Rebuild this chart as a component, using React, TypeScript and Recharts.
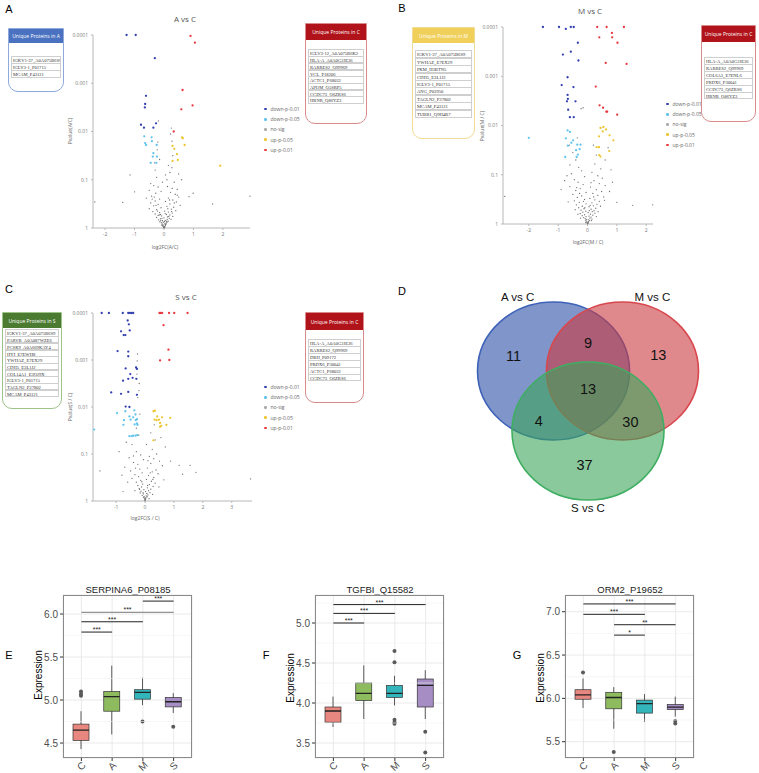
import React from "react";
import {
  ScatterChart,
  Scatter,
  XAxis,
  YAxis,
  ComposedChart,
  Bar,
  CartesianGrid,
  ReferenceLine,
} from "recharts";

const SANS = "'Liberation Sans', Arial, sans-serif";
const LIGHT = "'Open Sans', 'Noto Sans', sans-serif";
const SERIF = "'Liberation Serif', 'DejaVu Serif', serif";

// volcano point colours
const DOWN1 = "#3340b0";
const DOWN5 = "#62c4ec";
const NOSIG = "#6f6f6f";
const UP5 = "#eec633";
const UP1 = "#e8383d";

const LEGEND_NAMES = ["down-p-0.01", "down-p-0.05", "no-sig", "up-p-0.05", "up-p-0.01"];
const LEGEND_COLORS = [DOWN1, DOWN5, NOSIG, UP5, UP1];

// y is -log10(p); labels show p itself
const P_TICKS = [0, 1, 2, 3, 4];
const P_LABELS = ["1", "0.1", "0.01", "0.001", "0.0001"];

type Pt = [number, number];

// ---- A vs C : [log2FC, -log10 p]
const AC_DOWN1: Pt[] = [[-1.27, 4.0], [-0.96, 4.0], [-0.31, 3.52], [-0.61, 2.74], [-0.64, 2.57], [-0.65, 2.5], [-0.78, 2.14], [-0.68, 2.08], [-0.36, 2.08], [-0.27, 2.17]];
const AC_DOWN5: Pt[] = [[-0.67, 1.9], [-0.42, 1.88], [-0.64, 1.76], [-0.41, 1.8], [-0.61, 1.72], [-0.25, 1.72], [-0.36, 1.55], [-0.38, 1.48], [-0.24, 1.48], [-0.45, 1.35], [-0.26, 1.35]];
const AC_UP5: Pt[] = [[0.61, 1.88], [0.64, 1.86], [0.29, 1.7], [0.35, 1.64], [0.7, 1.72], [0.44, 1.53], [0.29, 1.39], [0.47, 1.41], [1.91, 1.29]];
const AC_UP1: Pt[] = [[0.9, 3.98], [1.05, 3.84], [0.63, 2.86], [0.97, 2.54], [0.59, 2.46], [0.33, 2.0]];
const AC_NOSIG: Pt[] = [
  [-2.35, 0.54], [2.92, 0.66], [1.65, 0.5], [-1.4, 0.53], [-1.15, 1.1], [-1.0, 0.75], [0.99, 0.72], [0.85, 0.65], [0.6, 1.0], [-0.19, 2.22],
  [0.25, 2.07], [0.22, 1.95], [-0.21, 1.78], [0.27, 1.8], [-0.23, 1.62], [0.3, 1.5], [-0.15, 1.42], [-0.32, 1.35], [0.15, 1.3], [0.27, 1.25],
  [-0.3, 1.2], [0.2, 1.15], [0.5, 1.12], [0.05, 1.1], [-0.25, 1.05], [0.1, 1.0], [-0.05, 0.95], [0.35, 0.95], [-0.45, 0.92], [-0.35, 0.88],
  [0.12, 0.86], [-0.2, 0.85], [0.28, 0.82], [0.45, 0.8], [-0.5, 0.78], [-0.1, 0.76], [0.22, 0.74], [-0.28, 0.72], [0.38, 0.7], [-0.42, 0.66],
  [0.5, 0.64], [-0.6, 0.62], [0.15, 0.62], [-0.15, 0.6], [0.3, 0.58], [-0.3, 0.56], [0.05, 0.55], [0.42, 0.54], [-0.45, 0.52], [0.2, 0.5],
  [-0.2, 0.49], [0.55, 0.47], [-0.35, 0.46], [0.1, 0.45], [0.33, 0.43], [-0.1, 0.42], [-0.5, 0.4], [0.25, 0.39], [-0.25, 0.38], [0.4, 0.36],
  [0.02, 0.35], [-0.38, 0.34], [0.15, 0.33], [-0.15, 0.32], [0.28, 0.31], [-0.3, 0.29], [0.08, 0.28], [0.2, 0.27], [-0.2, 0.26], [-0.08, 0.25],
  [0.3, 0.24], [0.12, 0.23], [-0.25, 0.22], [0.0, 0.21], [0.18, 0.2], [-0.12, 0.19], [0.24, 0.18], [-0.18, 0.17], [0.06, 0.16], [-0.05, 0.15],
  [0.14, 0.14], [-0.14, 0.13], [0.1, 0.12], [-0.09, 0.11], [0.03, 0.1], [0.07, 0.09], [-0.06, 0.085], [0.06, 0.075], [0.04, 0.07], [-0.03, 0.065],
  [-0.04, 0.055], [0.05, 0.05], [-0.05, 0.045], [0.02, 0.035], [-0.02, 0.03], [0.03, 0.02], [-0.01, 0.015], [0.01, 0.01], [0.0, 0.005], [0.09, 0.13],
  [-0.11, 0.16], [0.16, 0.24], [-0.22, 0.35], [0.35, 0.52], [-0.4, 0.6], [0.45, 0.68], [-0.12, 0.28], [0.13, 0.4], [-0.27, 0.47],
  [0.19, 0.58], [-0.33, 0.64], [0.26, 0.34], [-0.07, 0.2], [0.11, 0.18], [-0.16, 0.27], [0.04, 0.3], [-0.02, 0.12], [0.02, 0.14], [-0.08, 0.06],
];

// ---- M vs C
const MC_DOWN1: Pt[] = [[-1.52, 4.0], [-0.97, 4.0], [-0.74, 3.96], [-0.57, 4.0], [-0.47, 4.0], [-0.33, 3.68], [-0.84, 3.44], [-0.57, 3.5], [-0.31, 3.32], [-0.68, 2.98], [-0.88, 2.82], [-0.48, 2.78], [-0.68, 2.62], [-0.67, 2.54], [-0.7, 2.49], [-0.41, 2.49], [-0.66, 2.32], [-0.6, 2.17], [-0.47, 2.17]];
const MC_DOWN5: Pt[] = [[-2.0, 1.75], [-0.68, 1.9], [-0.6, 1.87], [-0.74, 1.74], [-0.49, 1.7], [-0.55, 1.65], [-0.67, 1.59], [-0.35, 1.61], [-0.24, 1.61], [-0.27, 1.52], [-0.39, 1.5], [-0.33, 1.41], [-0.37, 1.36], [-0.76, 1.36]];
const MC_UP5: Pt[] = [[0.44, 1.95], [0.54, 1.97], [0.63, 1.92], [0.52, 1.88], [0.39, 1.78], [0.75, 1.8], [0.88, 1.7], [0.31, 1.56], [0.39, 1.56], [0.74, 1.48], [0.4, 1.4], [0.44, 1.37]];
const MC_UP1: Pt[] = [[0.33, 4.0], [0.65, 4.0], [1.24, 4.0], [0.4, 3.79], [0.83, 3.88], [0.84, 3.79], [1.02, 3.68], [0.62, 3.27], [1.33, 3.25], [0.28, 2.79], [0.41, 2.41], [0.53, 2.36], [0.64, 2.28], [0.67, 2.28], [1.01, 2.22]];
const MC_NOSIG: Pt[] = [
  [-2.82, 0.56], [2.22, 0.39], [1.54, 0.38], [1.0, 0.44], [-0.22, 2.34], [-0.15, 2.36], [0.45, 1.95], [0.2, 1.6], [-0.6, 1.2], [-0.7, 0.98],
  [0.8, 1.1], [0.85, 0.85], [-0.9, 0.7], [0.6, 1.3], [-0.5, 1.45], [0.3, 1.4], [-0.4, 1.3], [0.25, 1.22], [-0.3, 1.15], [0.45, 1.12],
  [-0.2, 1.08], [0.15, 1.05], [-0.55, 1.02], [0.35, 0.98], [-0.1, 0.96], [0.5, 0.93], [-0.45, 0.9], [0.22, 0.88], [-0.32, 0.85], [0.4, 0.82],
  [-0.15, 0.8], [0.6, 0.78], [-0.6, 0.76], [0.1, 0.75], [-0.25, 0.72], [0.3, 0.7], [-0.4, 0.68], [0.48, 0.66], [-0.05, 0.64], [0.18, 0.62],
  [-0.5, 0.6], [0.35, 0.58], [-0.2, 0.57], [0.55, 0.55], [-0.35, 0.54], [0.08, 0.52], [-0.1, 0.5], [0.25, 0.49], [-0.45, 0.47], [0.4, 0.46],
  [-0.28, 0.44], [0.15, 0.43], [-0.05, 0.41], [0.32, 0.4], [-0.38, 0.39], [0.2, 0.37], [-0.18, 0.36], [0.05, 0.35], [-0.3, 0.33], [0.28, 0.32],
  [-0.12, 0.31], [0.12, 0.3], [-0.22, 0.28], [0.22, 0.27], [-0.06, 0.26], [0.16, 0.25], [-0.16, 0.24], [0.02, 0.23], [0.25, 0.22], [-0.25, 0.21],
  [0.1, 0.2], [-0.1, 0.19], [0.18, 0.18], [-0.18, 0.17], [0.05, 0.16], [-0.05, 0.15], [0.12, 0.14], [-0.13, 0.13], [0.08, 0.12], [-0.08, 0.11],
  [0.15, 0.1], [-0.03, 0.095], [0.04, 0.085], [-0.07, 0.08], [0.07, 0.07], [-0.04, 0.06], [0.03, 0.05], [-0.02, 0.04], [0.02, 0.03], [-0.01, 0.02],
  [0.01, 0.012], [0.0, 0.006], [-0.62, 1.6], [0.7, 1.55], [-0.35, 1.75], [0.12, 0.84], [-0.27, 0.62], [0.44, 0.36], [-0.42, 0.29], [0.3, 0.15],
  [-0.33, 0.2], [0.58, 0.48], [-0.66, 0.45], [0.75, 0.66], [-0.78, 0.88],
  [0.21, 0.55], [-0.37, 0.74], [0.09, 0.38], [-0.14, 0.46], [0.36, 0.25], [-0.24, 0.12], [0.06, 0.27], [-0.09, 0.33], [0.13, 0.07], [-0.06, 0.03],
];

// ---- S vs C
const SC_DOWN1: Pt[] = [[-1.5, 4], [-1.25, 4], [-0.77, 4], [-0.58, 4], [-0.52, 4], [-0.46, 4], [-0.41, 4], [-0.6, 3.84], [-0.56, 3.76], [-0.83, 3.61], [-0.53, 3.63], [-0.74, 3.53], [-0.68, 3.53], [-0.95, 3.19], [-0.58, 3.18], [-0.58, 3.08], [-0.67, 2.82], [-0.31, 2.84], [-0.28, 2.81], [-0.51, 2.7], [-0.58, 2.6], [-0.43, 2.62], [-0.3, 2.6], [-0.76, 2.56], [-1.17, 2.31], [-0.83, 2.28], [-0.58, 2.32], [-0.28, 2.26], [-0.67, 2.01], [-0.54, 2.0]];
const SC_DOWN5: Pt[] = [[-1.76, 1.52], [-0.97, 1.87], [-0.68, 1.91], [-0.37, 1.93], [-0.33, 1.84], [-0.54, 1.8], [-0.41, 1.78], [-0.28, 1.74], [-0.73, 1.72], [-0.5, 1.73], [-0.32, 1.72], [-0.28, 1.65], [-0.36, 1.63], [-0.26, 1.62], [-0.75, 1.62], [-0.54, 1.38], [-0.46, 1.38], [-0.41, 1.39], [-0.33, 1.39], [-0.27, 1.4]];
const SC_UP5: Pt[] = [[0.29, 1.91], [0.34, 1.92], [0.42, 1.8], [0.59, 1.78], [0.87, 1.77], [0.33, 1.73], [0.4, 1.72], [0.48, 1.73], [0.52, 1.66], [0.56, 1.6], [0.52, 1.58], [0.74, 1.62], [0.29, 1.29]];
const SC_UP1: Pt[] = [[0.5, 4], [0.54, 4], [0.59, 4], [0.83, 4], [1.01, 4], [1.47, 4], [0.64, 3.74], [0.81, 3.22], [0.52, 2.99], [0.84, 3.0]];
const SC_NOSIG: Pt[] = [
  [3.65, 0.47], [-1.56, 0.64], [1.76, 0.61], [1.56, 0.76], [1.18, 0.76], [1.3, 0.57], [0.88, 0.85], [-0.76, 0.2], [-0.26, 3.13], [-0.27, 2.98],
  [-0.2, 2.5], [-0.25, 2.2], [0.35, 1.3], [-0.9, 1.05], [0.7, 1.15], [-0.65, 1.25], [0.55, 1.35], [-0.45, 1.2], [0.25, 1.1], [-0.3, 1.05],
  [0.4, 1.0], [-0.15, 0.98], [0.15, 0.95], [-0.55, 0.92], [0.3, 0.9], [-0.05, 0.88], [0.5, 0.85], [-0.4, 0.82], [0.2, 0.8], [-0.25, 0.78],
  [0.6, 0.75], [-0.7, 0.72], [0.08, 0.7], [-0.18, 0.68], [0.38, 0.66], [-0.5, 0.64], [0.25, 0.62], [-0.1, 0.6], [0.45, 0.58], [-0.35, 0.56],
  [0.12, 0.54], [-0.22, 0.52], [0.3, 0.5], [-0.45, 0.48], [0.05, 0.46], [-0.15, 0.44], [0.22, 0.42], [-0.3, 0.4], [0.35, 0.38], [-0.08, 0.36],
  [0.15, 0.35], [-0.25, 0.33], [0.28, 0.31], [-0.12, 0.3], [0.08, 0.28], [-0.2, 0.27], [0.2, 0.25], [-0.04, 0.24], [0.12, 0.22], [-0.14, 0.21],
  [0.02, 0.2], [0.17, 0.18], [-0.17, 0.17], [0.06, 0.16], [-0.06, 0.15], [0.1, 0.13], [-0.1, 0.12], [0.04, 0.11], [-0.03, 0.1], [0.07, 0.09],
  [-0.05, 0.08], [0.03, 0.07], [-0.02, 0.06], [0.02, 0.05], [-0.01, 0.04], [0.01, 0.03], [0.0, 0.02], [0.0, 0.01], [-0.3, 1.55], [0.32, 1.62],
  [-0.18, 1.85], [-0.22, 1.4], [0.2, 1.45], [-0.6, 0.4], [0.48, 0.3], [-0.35, 0.22], [0.26, 0.14], [-0.8, 0.55], [0.65, 0.45], [-0.28, 2.7],
  [-0.21, 2.35], [0.05, 1.2],
  [-0.33, 0.7], [0.18, 0.6], [-0.11, 0.41], [0.09, 0.33], [-0.19, 0.25], [0.14, 0.05], [-0.07, 0.18], [0.27, 0.46], [-0.4, 0.96], [0.1, 0.86],
];

// unique protein lists
const UNIQUE_A = ["IGKV1-37_A0A075B6S9", "IGLV3-1_P01715", "MCAM_P43121"];
const UNIQUE_C_VS_A = ["IGLV3-12_A0A075B6K2", "HLA-A_A0A0G2JE36", "RARRES2_Q99969", "VCL_P18206", "ACTC1_P68032", "APOM_Q5SRP5", "CCDC73_Q6ZRS6", "HRNR_Q86YZ3"];
const UNIQUE_M = ["IGKV1-37_A0A075B6S9", "YWHAZ_E7EX29", "PKM_H3BTN5", "CDH5_E3L1J2", "IGLV3-1_P01715", "ANG_P03950", "TAGLN2_P37802", "MCAM_P43121", "TUBB1_Q9H4B7"];
const UNIQUE_C_VS_M = ["HLA-A_A0A0G2JE36", "RARRES2_Q99969", "COL6A3_E7ENL6", "PRDX6_P30041", "CCDC73_Q6ZRS6", "HRNR_Q86YZ3"];
const UNIQUE_S = ["IGKV1-37_A0A075B6S9", "PARVB_A0A087WZE6", "PCSK9_A0A669KAY4", "HYI_E7EWH8", "YWHAZ_E7EX29", "CDH5_E3L1J2", "COL14A1_E3QJ9X", "IGLV3-1_P01715", "TAGLN2_P37802", "MCAM_P43121"];
const UNIQUE_C_VS_S = ["HLA-A_A0A0G2JE36", "RARRES2_Q99969", "DBH_P09172", "PRDX6_P30041", "ACTC1_P68032", "CCDC73_Q6ZRS6"];

// venn
const VENN_SETS = ["A vs C", "M vs C", "S vs C"];
const VENN_CX = [-1, 1, 0];
const VENN_CY = [1, 1, -1];
const VENN_LABEL_X = [-2.04, 1.87, 0];
const VENN_LABEL_Y = [3.47, 3.47, -3.57];
const VENN_COUNTS = [11, 9, 13, 13, 4, 30, 37];
const VENN_COUNT_X = [-2.16, 0, 2.04, 0, -1.43, 1.23, -0.1];
const VENN_COUNT_Y = [1.5, 1.93, 1.53, 0.4, -0.67, -0.7, -2.13];
const VENN_FILL = ["#2c4fa5", "#cc3a40", "#3aa55a"];
const VENN_STROKE = ["#3e62b8", "#d8474d", "#3fae62"];

// box plots: [lower whisker, Q1, median, Q3, upper whisker] per group
const GROUPS = ["C", "A", "M", "S"];
const GROUP_FILL = ["#e8877f", "#8fbb5f", "#33b5bc", "#a68dc4"];

const SERPINA6_BOX = [[4.43, 4.53, 4.65, 4.72, 4.87], [4.6, 4.87, 5.04, 5.1, 5.4], [4.94, 5.01, 5.09, 5.12, 5.26], [4.85, 4.92, 4.98, 5.03, 5.08]];
const SERPINA6_OUT = [[5.1, 5.07, 5.05], [], [4.75], [4.69]];
const SERPINA6_SIG: [string, string, number, string][] = [["C", "A", 5.79, "***"], ["C", "M", 5.91, "***"], ["C", "S", 6.02, "***"], ["M", "S", 6.15, "***"]];

const TGFBI_BOX = [[3.7, 3.76, 3.9, 3.95, 4.08], [3.8, 4.03, 4.12, 4.25, 4.47], [3.97, 4.07, 4.12, 4.22, 4.34], [3.8, 3.95, 4.22, 4.3, 4.41]];
const TGFBI_OUT = [[], [], [4.65, 4.51, 3.79, 3.76, 3.74], [3.64, 3.38]];
const TGFBI_SIG: [string, string, number, string][] = [["C", "A", 5.0, "***"], ["C", "M", 5.12, "***"], ["C", "S", 5.23, "***"]];

const ORM2_BOX = [[5.89, 5.99, 6.04, 6.1, 6.23], [5.65, 5.88, 6.01, 6.07, 6.13], [5.73, 5.83, 5.94, 5.98, 6.05], [5.79, 5.87, 5.9, 5.93, 6.02]];
const ORM2_OUT = [[6.3], [5.38], [], [5.74, 5.71]];
const ORM2_SIG: [string, string, number, string][] = [["C", "S", 7.09, "***"], ["C", "M", 6.97, "***"], ["A", "S", 6.85, "**"], ["A", "M", 6.73, "*"]];

function Txt(p: { x: number; y: number; size: number; children: React.ReactNode; color?: string; font?: string; rotate?: number }) {
  return (
    <div
      style={{
        position: "absolute",
        left: p.x,
        top: p.y,
        transform: `translate(-50%, -50%)${p.rotate ? ` rotate(${p.rotate}deg)` : ""}`,
        fontSize: p.size,
        fontFamily: p.font ?? SANS,
        color: p.color ?? "#000",
        whiteSpace: "nowrap",
        lineHeight: 1,
      }}
    >
      {p.children}
    </div>
  );
}

function Volcano(p: { left: number; top: number; width: number; height: number; xDomain: [number, number]; xTicks: number[]; groups: Pt[][] }) {
  const order = [2, 0, 1, 3, 4];
  return (
    <div style={{ position: "absolute", left: p.left, top: p.top }}>
      <ScatterChart width={p.width} height={p.height} margin={{ top: 10, right: 10, bottom: 8, left: 10 }}>
        <XAxis
          type="number"
          dataKey="x"
          domain={p.xDomain}
          ticks={p.xTicks}
          height={14}
          stroke="#b8b8b8"
          tickSize={2}
          tickMargin={2}
          tick={{ fontSize: 5, fill: "#777", fontFamily: LIGHT }}
        />
        <YAxis
          type="number"
          dataKey="y"
          domain={[0, 4]}
          ticks={P_TICKS}
          tickFormatter={(v: number) => P_LABELS[Math.round(v)]}
          width={28}
          stroke="#b8b8b8"
          tickSize={2}
          tickMargin={3}
          tick={{ fontSize: 5, fill: "#777", fontFamily: LIGHT }}
        />
        {order.map((gi) => (
          <Scatter
            key={gi}
            data={p.groups[gi].map(([x, y]) => ({ x, y }))}
            isAnimationActive={false}
            shape={(s: any) => <circle cx={s.cx} cy={s.cy} r={gi === 2 ? 0.65 : 1.15} fill={LEGEND_COLORS[gi]} />}
          />
        ))}
      </ScatterChart>
    </div>
  );
}

function VLegend(p: { left: number; top: number }) {
  return (
    <div style={{ position: "absolute", left: p.left, top: p.top, fontFamily: LIGHT, fontSize: 5, color: "#666" }}>
      {LEGEND_NAMES.map((n, i) => (
        <div key={n} style={{ height: 10.2, display: "flex", alignItems: "center", whiteSpace: "nowrap" }}>
          <span style={{ width: 2.5, height: 2.5, borderRadius: "50%", background: i === 2 ? "#aaa" : LEGEND_COLORS[i], marginRight: 4, display: "inline-block" }} />
          {n}
        </div>
      ))}
    </div>
  );
}

function UniqueBox(p: { left: number; top: number; width: number; height: number; head: string; color: string; border: string; items: string[]; headH: number; rowsTop: number; rowH: number }) {
  return (
    <div
      style={{
        position: "absolute",
        left: p.left,
        top: p.top,
        width: p.width,
        height: p.height,
        border: `1px solid ${p.border}`,
        borderRadius: "0 0 10px 10px",
        boxSizing: "border-box",
        background: "#fff",
      }}
    >
      <div
        style={{
          height: p.headH,
          background: p.color,
          color: "#fff",
          fontFamily: LIGHT,
          fontSize: 5,
          display: "flex",
          alignItems: "center",
          justifyContent: "center",
          whiteSpace: "nowrap",
        }}
      >
        {p.head}
      </div>
      <div style={{ position: "absolute", left: 2, right: 2, top: p.rowsTop }}>
        {p.items.map((it) => (
          <div
            key={it}
            style={{
              height: p.rowH,
              boxSizing: "border-box",
              border: "0.6px solid #cfcfcf",
              marginTop: -0.6,
              fontFamily: SERIF,
              fontSize: 4.6,
              color: "#333",
              lineHeight: `${p.rowH}px`,
              paddingLeft: 1,
              whiteSpace: "nowrap",
              overflow: "hidden",
            }}
          >
            {it}
          </div>
        ))}
      </div>
    </div>
  );
}

function Venn() {
  const circles = VENN_SETS.map((name, i) => ({ x: VENN_CX[i], y: VENN_CY[i], i }));
  const counts = VENN_COUNTS.map((n, i) => ({ x: VENN_COUNT_X[i], y: VENN_COUNT_Y[i], n }));
  const labels = VENN_SETS.map((name, i) => ({ x: VENN_LABEL_X[i], y: VENN_LABEL_Y[i], name }));
  return (
    <div style={{ position: "absolute", left: 418, top: 286 }}>
      <ScatterChart width={340} height={230} margin={{ top: 0, right: 0, bottom: 0, left: 0 }}>
        <XAxis type="number" dataKey="x" domain={[-4.93, 4.93]} hide />
        <YAxis type="number" dataKey="y" domain={[-3.83, 3.83]} hide />
        <Scatter
          data={circles}
          isAnimationActive={false}
          shape={(s: any) => (
            <ellipse
              cx={s.cx}
              cy={s.cy}
              rx={76}
              ry={69}
              fill={VENN_FILL[s.payload.i]}
              fillOpacity={0.6}
              stroke={VENN_STROKE[s.payload.i]}
              strokeWidth={1.6}
            />
          )}
        />
        <Scatter
          data={counts}
          isAnimationActive={false}
          shape={(s: any) => (
            <text x={s.cx} y={s.cy} textAnchor="middle" dominantBaseline="central" fontSize={14.5} fontFamily={SANS} fill="#111">
              {s.payload.n}
            </text>
          )}
        />
        <Scatter
          data={labels}
          isAnimationActive={false}
          shape={(s: any) => (
            <text x={s.cx} y={s.cy} textAnchor="middle" dominantBaseline="central" fontSize={11.5} fontFamily={SANS} fill="#111">
              {s.payload.name}
            </text>
          )}
        />
      </ScatterChart>
    </div>
  );
}

function BoxShape(props: any) {
  const { x, y, width, height, payload } = props;
  const top = Math.min(y, y + height);
  const h = Math.abs(height);
  const [lo, q1, med, q3, hi] = payload.s as number[];
  const k = h / (hi - lo);
  const py = (v: number) => top + (hi - v) * k;
  const cx = x + width / 2;
  return (
    <g>
      <line x1={cx} x2={cx} y1={py(hi)} y2={py(lo)} stroke="#333" strokeWidth={0.8} />
      <rect x={x} y={py(q3)} width={width} height={py(q1) - py(q3)} fill={payload.fill} stroke="#333" strokeWidth={0.7} />
      <line x1={x} x2={x + width} y1={py(med)} y2={py(med)} stroke="#222" strokeWidth={1.3} />
      {(payload.out as number[]).map((v, i) => (
        <circle key={i} cx={cx} cy={py(v)} r={2} fill="#5a5a5a" />
      ))}
    </g>
  );
}

function BoxPanel(p: { left: number; title: string; stats: number[][]; out: number[][]; sig: [string, string, number, string][]; domain: [number, number]; ticks: number[]; letter: string; exprY: number }) {
  const data = GROUPS.map((g, i) => ({ g, range: [p.stats[i][0], p.stats[i][4]], s: p.stats[i], out: p.out[i], fill: GROUP_FILL[i] }));
  const minor = p.ticks
    .flatMap((t) => [t - 0.25, t + 0.25])
    .filter((v, i, a) => v > p.domain[0] && v < p.domain[1] && a.indexOf(v) === i);
  return (
    <>
      <Txt x={p.left + 128} y={590} size={9.5} color="#222">
        {p.title}
      </Txt>
      <Txt x={p.left + 39} y={p.exprY} size={10} rotate={-90}>
        Expression
      </Txt>
      <div style={{ position: "absolute", left: p.left, top: 580 }}>
        <ComposedChart width={199} height={194} data={data} margin={{ top: 15, right: 7, bottom: 0, left: 33 }}>
          <CartesianGrid stroke="#e4e4e4" strokeWidth={0.8} />
          {minor.map((v) => (
            <ReferenceLine key={v} y={v} stroke="#f1f1f1" strokeWidth={0.6} />
          ))}
          <XAxis
            dataKey="g"
            type="category"
            height={16}
            padding={{ left: 3, right: 3 }}
            axisLine={false}
            tickSize={3}
            tickMargin={0}
            tickLine={{ stroke: "#333" }}
            tick={(t: any) => (
              <text
                x={t.x}
                y={t.y + 5}
                transform={`rotate(-45 ${t.x} ${t.y + 5})`}
                textAnchor="middle"
                dominantBaseline="central"
                fontSize={10}
                fontFamily={SANS}
                fill="#4d4d4d"
              >
                {t.payload.value}
              </text>
            )}
          />
          <YAxis
            type="number"
            domain={p.domain}
            ticks={p.ticks}
            allowDataOverflow
            tickFormatter={(v: number) => v.toFixed(1)}
            width={30}
            axisLine={false}
            tickSize={3}
            tickMargin={2}
            tickLine={{ stroke: "#333" }}
            tick={{ fontSize: 10, fill: "#4d4d4d", fontFamily: SANS }}
          />
          <Bar dataKey="range" barSize={16} isAnimationActive={false} shape={BoxShape} />
          {p.sig.map(([a, b, y, lab], i) => (
            <ReferenceLine
              key={i}
              segment={[
                { x: a, y },
                { x: b, y },
              ]}
              stroke={p.letter === "E" && a === "C" && b === "S" ? "#777" : "#222"}
              strokeWidth={1}
              label={{ value: lab, position: "top", offset: 0, fontSize: 7, fill: "#222" }}
            />
          ))}
        </ComposedChart>
      </div>
      <div
        style={{
          position: "absolute",
          left: p.left + 63,
          top: 595,
          width: 129,
          height: 163,
          border: "1px solid #8a8a8a",
          boxSizing: "border-box",
          pointerEvents: "none",
        }}
      />
    </>
  );
}

export default function App() {
  return (
    <div style={{ position: "absolute", left: 0, top: 0, width: 759, height: 773, background: "#fff", overflow: "hidden", fontFamily: SANS }}>
      {/* panel letters */}
      <Txt x={9} y={9} size={11}>A</Txt>
      <Txt x={402} y={8} size={11}>B</Txt>
      <Txt x={9} y={289} size={11}>C</Txt>
      <Txt x={402} y={291} size={11}>D</Txt>
      <Txt x={9} y={655} size={11}>E</Txt>
      <Txt x={266} y={655} size={11}>F</Txt>
      <Txt x={517} y={655} size={11}>G</Txt>

      {/* A vs C */}
      <Txt x={185} y={19} size={8} color="#555" font={LIGHT}>A vs C</Txt>
      <Volcano left={55} top={25} width={205} height={225} xDomain={[-2.41, 2.92]} xTicks={[-2, -1, 0, 1, 2]} groups={[AC_DOWN1, AC_DOWN5, AC_NOSIG, AC_UP5, AC_UP1]} />
      <Txt x={165} y={247} size={5} color="#666" font={LIGHT}>log2FC(A/C)</Txt>
      <Txt x={70} y={131} size={5} color="#666" font={LIGHT} rotate={-90}>Pvalue(A/C)</Txt>
      <VLegend left={264} top={104} />
      <UniqueBox left={8} top={28} width={56} height={64} head="Unique Proteins in A" color="#4a72c0" border="#8ea9da" items={UNIQUE_A} headH={14} rowsTop={28} rowH={7.5} />
      <UniqueBox left={305} top={23} width={62} height={101} head="Unique Proteins in C" color="#b01319" border="#d98a8a" items={UNIQUE_C_VS_A} headH={16} rowsTop={26} rowH={7.3} />

      {/* M vs C */}
      <Txt x={590} y={11} size={8} color="#555" font={LIGHT}>M vs C</Txt>
      <Volcano left={465} top={17} width={198} height={229} xDomain={[-2.88, 2.23]} xTicks={[-2, -1, 0, 1, 2]} groups={[MC_DOWN1, MC_DOWN5, MC_NOSIG, MC_UP5, MC_UP1]} />
      <Txt x={588} y={242} size={5} color="#666" font={LIGHT}>log2FC(M / C)</Txt>
      <Txt x={482} y={126} size={5} color="#666" font={LIGHT} rotate={-90}>Pvalue(M / C)</Txt>
      <VLegend left={666} top={99} />
      <UniqueBox left={412} top={27} width={63} height={112} head="Unique Proteins in M" color="#f0cf5a" border="#f2dc94" items={UNIQUE_M} headH={15} rowsTop={23} rowH={8} />
      <UniqueBox left={701} top={25} width={55} height={97} head="Unique Proteins in C" color="#b01319" border="#d98a8a" items={UNIQUE_C_VS_M} headH={16} rowsTop={32} rowH={7.5} />

      {/* S vs C */}
      <Txt x={186} y={297} size={8} color="#555" font={LIGHT}>S vs C</Txt>
      <Volcano left={55} top={303} width={207} height={220} xDomain={[-1.8, 3.7]} xTicks={[-1, 0, 1, 2, 3]} groups={[SC_DOWN1, SC_DOWN5, SC_NOSIG, SC_UP5, SC_UP1]} />
      <Txt x={145} y={518} size={5} color="#666" font={LIGHT}>log2FC(S / C)</Txt>
      <Txt x={70} y={407} size={5} color="#666" font={LIGHT} rotate={-90}>Pvalue(S / C)</Txt>
      <VLegend left={264} top={382} />
      <UniqueBox left={2} top={312} width={60} height={97} head="Unique Proteins in S" color="#4b7b31" border="#9dc28a" items={UNIQUE_S} headH={15} rowsTop={17} rowH={7.3} />
      <UniqueBox left={305} top={312} width={59} height={91} head="Unique Proteins in C" color="#b01319" border="#d98a8a" items={UNIQUE_C_VS_S} headH={17} rowsTop={27} rowH={7.5} />

      {/* D venn */}
      <Venn />

      {/* E F G box plots */}
      <BoxPanel left={0} letter="E" title="SERPINA6_P08185" stats={SERPINA6_BOX} out={SERPINA6_OUT} sig={SERPINA6_SIG} domain={[4.326, 6.221]} ticks={[4.5, 5.0, 5.5, 6.0]} exprY={675} />
      <BoxPanel left={252} letter="F" title="TGFBI_Q15582" stats={TGFBI_BOX} out={TGFBI_OUT} sig={TGFBI_SIG} domain={[3.3125, 5.35]} ticks={[3.5, 4.0, 4.5, 5.0]} exprY={678} />
      <BoxPanel left={502} letter="G" title="ORM2_P19652" stats={ORM2_BOX} out={ORM2_OUT} sig={ORM2_SIG} domain={[5.312, 7.193]} ticks={[5.5, 6.0, 6.5, 7.0]} exprY={678} />
    </div>
  );
}
